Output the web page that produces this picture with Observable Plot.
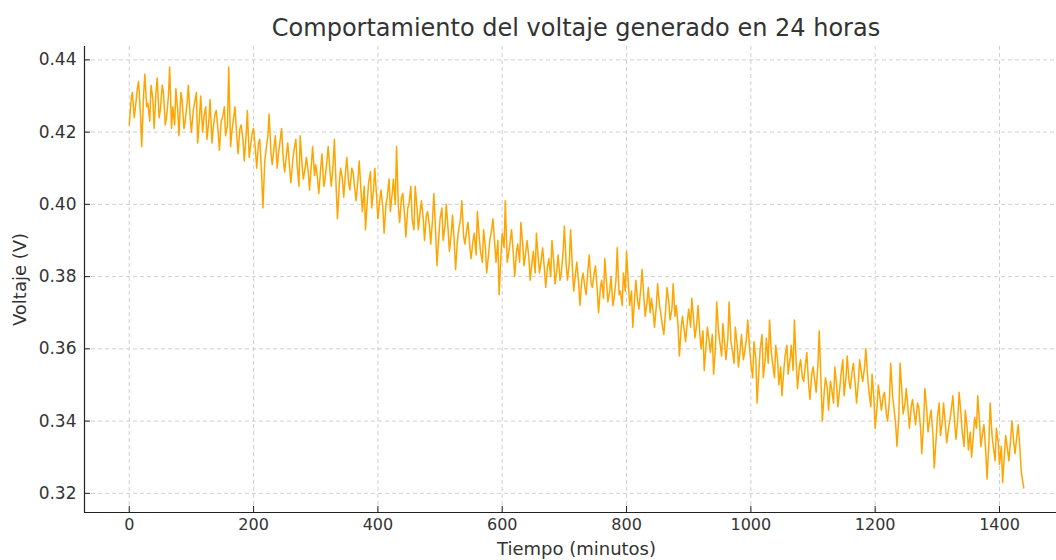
<!DOCTYPE html>
<html><head><meta charset="utf-8">
<script src="https://cdn.jsdelivr.net/npm/d3@7"></script>
<script src="https://cdn.jsdelivr.net/npm/@observablehq/plot@0.6"></script>
<style>
html,body{margin:0;padding:0;background:#fff;overflow:hidden;width:1056px;height:560px}
#title{position:absolute;left:84px;width:984px;top:14px;text-align:center;font-family:"DejaVu Sans";font-size:24px;color:#333;white-space:nowrap}
#chart{position:absolute;left:0;top:46px}
</style></head><body>
<div id="title">Comportamiento del voltaje generado en 24 horas</div>
<div id="chart"></div>
<script>
const minutos = [
0,3,5,8,10,13,15,18,20,23,25,28,30,33,35,38,40,43,45,48,50,53,55,58,
60,63,65,68,70,73,75,78,80,83,85,88,90,93,95,98,100,103,105,108,110,113,115,118,
120,123,125,128,130,133,135,138,140,143,145,148,150,153,155,158,160,163,165,168,170,173,175,178,
180,183,185,188,190,193,195,198,200,203,205,208,210,213,215,218,220,223,225,228,230,233,235,238,
240,243,245,248,250,253,255,258,260,263,265,268,270,273,275,278,280,283,285,288,290,293,295,298,
300,303,305,308,310,313,315,318,320,323,325,328,330,333,335,338,340,343,345,348,350,353,355,358,
360,363,365,368,370,373,375,378,380,383,385,388,390,393,395,398,400,403,405,408,410,413,415,418,
420,423,425,428,430,433,435,438,440,443,445,448,450,453,455,458,460,463,465,468,470,473,475,478,
480,483,485,488,490,493,495,498,500,503,505,508,510,513,515,518,520,523,525,528,530,533,535,538,
540,543,545,548,550,553,555,558,560,563,565,568,570,573,575,578,580,583,585,588,590,593,595,598,
600,603,605,608,610,613,615,618,620,623,625,628,630,633,635,638,640,643,645,648,650,653,655,658,
660,663,665,668,670,673,675,678,680,683,685,688,690,693,695,698,700,703,705,708,710,713,715,718,
720,723,725,728,730,733,735,738,740,743,745,748,750,753,755,758,760,763,765,768,770,773,775,778,
780,783,785,788,790,793,795,798,800,803,805,808,810,813,815,818,820,823,825,828,830,833,835,838,
840,843,845,848,850,853,855,858,860,863,865,868,870,873,875,878,880,883,885,888,890,893,895,898,
900,903,905,908,910,913,915,918,920,923,925,928,930,933,935,938,940,943,945,948,950,953,955,958,
960,963,965,968,970,973,975,978,980,983,985,988,990,993,995,998,1000,1003,1005,1008,1010,1013,1015,1018,
1020,1023,1025,1028,1030,1033,1035,1038,1040,1043,1045,1048,1050,1053,1055,1058,1060,1063,1065,1068,1070,1073,1075,1078,
1080,1083,1085,1088,1090,1093,1095,1098,1100,1103,1105,1108,1110,1113,1115,1118,1120,1123,1125,1128,1130,1133,1135,1138,
1140,1143,1145,1148,1150,1153,1155,1158,1160,1163,1165,1168,1170,1173,1175,1178,1180,1183,1185,1188,1190,1193,1195,1198,
1200,1203,1205,1208,1210,1213,1215,1218,1220,1223,1225,1228,1230,1233,1235,1238,1240,1243,1245,1248,1250,1253,1255,1258,
1260,1263,1265,1268,1270,1273,1275,1278,1280,1283,1285,1288,1290,1293,1295,1298,1300,1303,1305,1308,1310,1313,1315,1318,
1320,1323,1325,1328,1330,1333,1335,1338,1340,1343,1345,1348,1350,1353,1355,1358,1360,1363,1365,1368,1370,1373,1375,1378,
1380,1383,1385,1388,1390,1393,1395,1398,1400,1403,1405,1408,1410,1413,1415,1418,1420,1423,1425,1428,1430,1433,1435,1439
];
const voltaje = [
0.422,0.429,0.431,0.424,0.427,0.432,0.434,0.425,0.416,0.430,0.436,0.427,0.428,0.423,0.433,0.429,0.421,0.431,0.435,0.424,0.426,0.433,0.431,0.422,
0.424,0.430,0.438,0.421,0.427,0.422,0.432,0.426,0.419,0.431,0.429,0.421,0.423,0.428,0.433,0.424,0.420,0.426,0.428,0.431,0.417,0.424,0.430,0.420,
0.424,0.427,0.418,0.423,0.429,0.417,0.421,0.425,0.426,0.420,0.415,0.423,0.424,0.427,0.419,0.422,0.438,0.416,0.420,0.424,0.427,0.419,0.414,0.421,
0.422,0.418,0.412,0.419,0.426,0.413,0.416,0.420,0.421,0.415,0.410,0.417,0.418,0.408,0.399,0.412,0.415,0.419,0.425,0.414,0.411,0.416,0.419,0.410,
0.414,0.418,0.421,0.412,0.409,0.414,0.417,0.410,0.406,0.412,0.415,0.418,0.411,0.405,0.419,0.411,0.407,0.410,0.413,0.409,0.404,0.411,0.416,0.408,
0.411,0.407,0.403,0.410,0.414,0.405,0.407,0.412,0.416,0.409,0.405,0.411,0.418,0.404,0.396,0.406,0.410,0.407,0.402,0.409,0.413,0.406,0.404,0.410,
0.409,0.404,0.401,0.407,0.412,0.403,0.398,0.405,0.393,0.401,0.406,0.409,0.399,0.404,0.410,0.402,0.396,0.401,0.404,0.399,0.392,0.400,0.402,0.407,
0.398,0.403,0.407,0.400,0.416,0.399,0.395,0.402,0.403,0.397,0.391,0.399,0.400,0.405,0.396,0.393,0.405,0.399,0.393,0.398,0.401,0.396,0.390,0.397,
0.398,0.394,0.389,0.396,0.403,0.392,0.383,0.391,0.396,0.399,0.390,0.394,0.400,0.393,0.387,0.392,0.397,0.389,0.382,0.390,0.393,0.396,0.401,0.391,
0.389,0.393,0.395,0.388,0.385,0.390,0.392,0.386,0.398,0.391,0.387,0.384,0.393,0.388,0.381,0.386,0.390,0.393,0.396,0.389,0.384,0.390,0.375,0.386,
0.392,0.388,0.401,0.384,0.386,0.390,0.393,0.386,0.380,0.387,0.389,0.384,0.395,0.389,0.383,0.387,0.390,0.385,0.379,0.384,0.387,0.381,0.392,0.385,
0.381,0.385,0.388,0.382,0.377,0.383,0.385,0.380,0.390,0.384,0.378,0.382,0.386,0.379,0.381,0.387,0.394,0.383,0.379,0.384,0.393,0.382,0.376,0.381,
0.384,0.378,0.372,0.379,0.381,0.377,0.375,0.382,0.386,0.378,0.377,0.381,0.383,0.376,0.370,0.377,0.379,0.374,0.385,0.378,0.373,0.376,0.380,0.372,
0.374,0.379,0.388,0.375,0.376,0.372,0.381,0.376,0.387,0.378,0.372,0.376,0.366,0.374,0.379,0.373,0.371,0.377,0.382,0.374,0.369,0.373,0.377,0.370,
0.374,0.370,0.366,0.372,0.378,0.372,0.370,0.366,0.364,0.371,0.377,0.373,0.368,0.371,0.378,0.369,0.372,0.366,0.358,0.366,0.369,0.365,0.362,0.368,
0.371,0.366,0.374,0.368,0.363,0.367,0.372,0.364,0.360,0.365,0.354,0.361,0.366,0.362,0.359,0.364,0.353,0.360,0.373,0.365,0.362,0.358,0.367,0.361,
0.357,0.363,0.373,0.362,0.360,0.356,0.366,0.361,0.355,0.360,0.364,0.357,0.359,0.363,0.368,0.360,0.356,0.352,0.362,0.357,0.345,0.354,0.360,0.364,
0.352,0.357,0.363,0.356,0.368,0.359,0.356,0.352,0.361,0.357,0.350,0.355,0.347,0.354,0.358,0.361,0.353,0.357,0.361,0.354,0.368,0.356,0.349,0.355,
0.357,0.352,0.351,0.356,0.359,0.350,0.346,0.353,0.355,0.351,0.348,0.356,0.365,0.350,0.340,0.348,0.352,0.349,0.343,0.351,0.349,0.345,0.355,0.350,
0.344,0.349,0.353,0.357,0.347,0.352,0.358,0.351,0.349,0.354,0.356,0.350,0.345,0.351,0.357,0.353,0.351,0.355,0.360,0.352,0.348,0.344,0.353,0.346,
0.338,0.344,0.350,0.346,0.343,0.347,0.348,0.342,0.340,0.346,0.356,0.347,0.344,0.339,0.333,0.341,0.356,0.348,0.342,0.345,0.349,0.343,0.338,0.344,
0.346,0.342,0.339,0.345,0.344,0.338,0.331,0.340,0.349,0.343,0.337,0.341,0.343,0.336,0.327,0.335,0.341,0.345,0.336,0.340,0.345,0.339,0.334,0.338,
0.340,0.344,0.347,0.339,0.335,0.341,0.348,0.342,0.337,0.333,0.343,0.338,0.332,0.337,0.330,0.336,0.341,0.338,0.347,0.339,0.333,0.337,0.339,0.331,
0.324,0.334,0.345,0.336,0.333,0.329,0.338,0.334,0.328,0.333,0.323,0.331,0.336,0.332,0.329,0.335,0.340,0.334,0.331,0.336,0.339,0.332,0.326,0.3215
];
const xTicks = [0,200,400,600,800,1000,1200,1400];
const yTicks = [0.32,0.34,0.36,0.38,0.40,0.42,0.44];
const xDominio = [-72, 1511];
const yDominio = [0.3147, 0.4437];

const datos = minutos.map((t, i) => ({t, v: voltaje[i]}));
const W = 1056, H = 514, mL = 84, mB = 48;
const grid = {stroke: "#c4c4c4", strokeDasharray: "4,3", strokeWidth: 0.8};

const chart = Plot.plot({
  width: W, height: H,
  marginLeft: mL, marginRight: 0, marginTop: 0, marginBottom: mB,
  style: {fontFamily: "DejaVu Sans", fontSize: "16px", color: "#333", background: "white", overflow: "hidden"},
  x: {domain: xDominio, range: [mL, 1068]},
  y: {domain: yDominio, range: [H - mB, 0]},
  marks: [
    Plot.ruleY(yTicks, grid),
    Plot.ruleX(xTicks, grid),
    Plot.lineY(datos, {x: "t", y: "v", stroke: "#FFA500", strokeWidth: 1.5}),
    Plot.axisX(xTicks, {tickSize: 0, tickPadding: 6, label: null, tickFormat: d => String(d)}),
    Plot.axisY(yTicks, {tickSize: 0, tickPadding: 8, label: null, fontSize: 17, tickFormat: d => d.toFixed(2)}),
    Plot.tickX(xTicks, {insetTop: H - mB - 6, stroke: "#222"}),
    Plot.tickY(yTicks, {insetRight: W - mL - 6, stroke: "#222"}),
    Plot.ruleX([xDominio[0]], {stroke: "#222", strokeWidth: 1.2}),
    Plot.ruleY([yDominio[0]], {stroke: "#222", strokeWidth: 1.2}),
    Plot.text(["Tiempo (minutos)"], {text: d => d, frameAnchor: "bottom", textAnchor: "middle", dy: 42, dx: 6, fontSize: 18, fill: "#333"}),
    Plot.text(["Voltaje (V)"], {text: d => d, frameAnchor: "left", textAnchor: "middle", rotate: -90, dx: -64, fontSize: 18, fill: "#333"})
  ]
});
document.getElementById("chart").appendChild(chart);
</script></body></html>
